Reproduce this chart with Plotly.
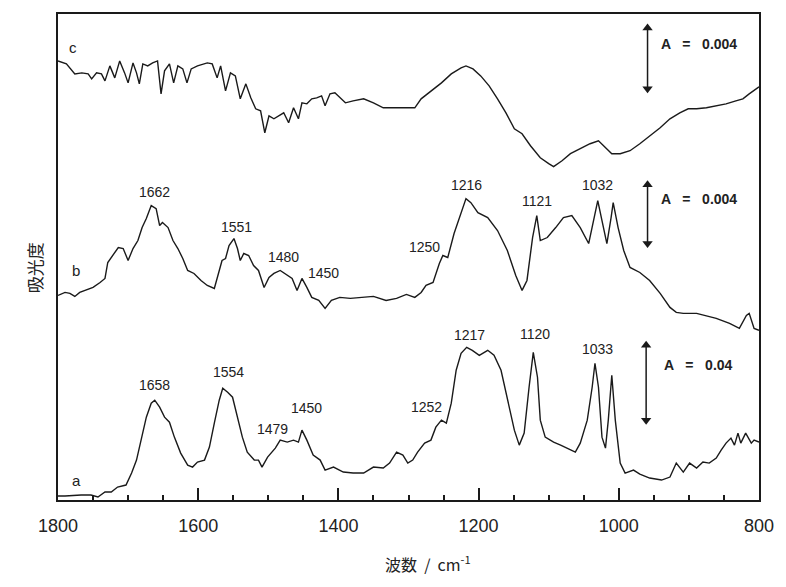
import plotly.graph_objects as go

# ---- spectrum c (top) ----
wn_c = [1800, 1795, 1788, 1776, 1766, 1757, 1752, 1745, 1738, 1733,
        1726, 1719, 1712, 1705, 1700, 1693, 1688, 1684, 1679, 1672,
        1665, 1658, 1653, 1648, 1641, 1635, 1629, 1622, 1616, 1610,
        1601, 1587, 1580, 1573, 1568, 1561, 1554, 1547, 1540, 1532,
        1525, 1518, 1511, 1505, 1499, 1492, 1485, 1478, 1471, 1464,
        1457, 1452, 1445, 1438, 1431, 1424, 1419, 1412, 1405, 1398,
        1390, 1379, 1364, 1350, 1336, 1317, 1301, 1291, 1282, 1268,
        1253, 1239, 1225, 1218, 1208, 1197, 1185, 1173, 1161, 1149,
        1138, 1126, 1112, 1100, 1093, 1081, 1069, 1055, 1041, 1029,
        1019, 1010, 998, 984, 970, 956, 941, 927, 913, 901,
        889, 875, 861, 847, 833, 823, 814, 800]
abs_c = [440, 439, 437, 427, 428, 427, 422, 428, 427, 420,
         435, 423, 440, 428, 418, 438, 428, 417, 437, 435,
         438, 440, 407, 430, 437, 418, 435, 432, 418, 432,
         435, 438, 437, 423, 435, 410, 428, 425, 402, 417,
         403, 392, 390, 368, 385, 382, 385, 388, 378, 393,
         382, 398, 397, 402, 403, 405, 395, 407, 408, 403,
         398, 400, 402, 398, 393, 393, 393, 393, 402, 410,
         418, 427, 433, 435, 432, 425, 415, 402, 388, 372,
         367, 355, 343, 337, 334, 340, 347, 352, 357, 360,
         353, 347, 347, 350, 357, 365, 373, 382, 388, 392,
         392, 393, 395, 397, 400, 402, 407, 414]

# ---- spectrum b (middle) ----
wn_b = [1800, 1790, 1783, 1776, 1769, 1759, 1750, 1740, 1733, 1729,
        1722, 1714, 1707, 1700, 1693, 1686, 1680, 1674, 1667, 1660,
        1655, 1651, 1643, 1636, 1629, 1622, 1615, 1606, 1596, 1587,
        1577, 1573, 1566, 1561, 1556, 1549, 1544, 1540, 1535, 1528,
        1521, 1514, 1506, 1499, 1492, 1483, 1473, 1466, 1459, 1452,
        1445, 1438, 1428, 1419, 1410, 1398, 1383, 1369, 1350, 1332,
        1317, 1303, 1291, 1282, 1275, 1265, 1256, 1251, 1244, 1235,
        1225, 1218, 1211, 1201, 1187, 1173, 1159, 1147, 1138, 1131,
        1123, 1117, 1112, 1102, 1090, 1079, 1067, 1055, 1043, 1036,
        1030, 1024, 1017, 1011, 1008, 1001, 993, 984, 970, 956,
        941, 927, 918, 908, 889, 861, 842, 828, 818, 814,
        807, 800]
abs_b = [205, 208, 207, 204, 208, 211, 213, 218, 222, 238,
         245, 253, 252, 240, 252, 260, 273, 282, 295, 292,
         275, 278, 273, 260, 252, 242, 230, 227, 220, 215,
         212, 223, 240, 242, 255, 262, 252, 240, 247, 245,
         235, 230, 213, 223, 227, 230, 225, 222, 210, 222,
         213, 203, 200, 192, 200, 203, 202, 203, 204, 200,
         202, 206, 203, 208, 215, 218, 237, 245, 243, 267,
         288, 302, 298, 288, 283, 270, 250, 225, 210, 220,
         263, 285, 260, 263, 273, 283, 285, 273, 257, 280,
         300, 280, 257, 283, 298, 273, 250, 233, 228, 220,
         207, 193, 188, 187, 187, 182, 177, 172, 185, 187,
         172, 170]

# ---- spectrum a (bottom) ----
wn_a = [1800, 1790, 1767, 1753, 1743, 1733, 1724, 1715, 1703, 1695,
        1688, 1681, 1674, 1667, 1662, 1655, 1648, 1641, 1634, 1625,
        1615, 1608, 1601, 1591, 1584, 1577, 1570, 1565, 1558, 1551,
        1544, 1537, 1530, 1520, 1514, 1509, 1501, 1495, 1490, 1483,
        1473, 1464, 1457, 1452, 1445, 1436, 1426, 1419, 1407, 1393,
        1379, 1364, 1350, 1336, 1327, 1317, 1308, 1301, 1294, 1287,
        1277, 1268, 1261, 1253, 1246, 1239, 1232, 1225, 1217, 1209,
        1199, 1187, 1178, 1168, 1159, 1149, 1142, 1135, 1128, 1122,
        1116, 1112, 1105, 1093, 1083, 1074, 1062, 1055, 1045, 1038,
        1034, 1029, 1024, 1019, 1015, 1010, 1005, 998, 991, 979,
        970, 956, 939, 927, 918, 908, 899, 889, 880, 871,
        861, 854, 847, 840, 835, 830, 826, 819, 811, 807,
        800]
abs_a = [4, 4, 5, 5, 3, 8, 8, 13, 15, 27,
         40, 63, 83, 97, 100, 93, 83, 78, 63, 47,
         35, 33, 38, 40, 53, 77, 100, 112, 108, 103,
         83, 63, 48, 40, 40, 33, 43, 48, 52, 60,
         58, 60, 58, 70, 60, 45, 40, 30, 33, 28,
         27, 27, 33, 32, 37, 48, 45, 37, 40, 48,
         57, 60, 73, 80, 77, 97, 130, 147, 153, 150,
         145, 150, 145, 130, 103, 70, 55, 67, 113, 148,
         123, 80, 63, 58, 55, 52, 48, 57, 80, 113,
         137, 113, 63, 52, 80, 125, 80, 37, 27, 30,
         26, 22, 20, 23, 37, 28, 37, 32, 38, 37,
         42, 50, 57, 62, 55, 67, 57, 67, 57, 60,
         58]

# ---- peak labels ----
peaks_b = ["1662", "1551", "1480", "1450", "1250", "1216", "1121", "1032"]
peaks_b_x = [1662, 1546, 1478, 1421, 1277, 1217, 1117, 1031]
peaks_b_y = [309, 274, 244, 227, 254, 316, 300, 316]
peaks_a = ["1658", "1554", "1479", "1450", "1252", "1217", "1120", "1033"]
peaks_a_x = [1662, 1557, 1494, 1445, 1275, 1213, 1120, 1031]
peaks_a_y = [115, 128, 71, 92, 93, 165, 166, 151]

curve_names = ["c", "b", "a"]
curve_name_x = [1779, 1775, 1773]
curve_name_y = [453, 230, 20]

# ---- absorbance scale bars ----
scale_texts = ["A   =   0.004", "A   =   0.004", "A   =   0.04"]
scale_x = [959, 959, 961]
scale_top = [473, 316, 155]
scale_bottom = [412, 257, 80]
scale_text_x = [943, 943, 939]
scale_text_y = [457, 302, 135]

tick_vals = [1800, 1600, 1400, 1200, 1000, 800]
tick_text = ["1800", "1600", "1400", "1200", "1000", "800"]

LINE = "#1a1a1a"
TXT = "#222222"

fig = go.Figure()
for wn, ab in [(wn_c, abs_c), (wn_b, abs_b), (wn_a, abs_a)]:
    fig.add_trace(go.Scatter(x=wn, y=ab, mode="lines",
                             line=dict(color=LINE, width=1.4),
                             showlegend=False, hoverinfo="skip"))

for x, y0, y1 in zip(scale_x, scale_top, scale_bottom):
    fig.add_trace(go.Scatter(x=[x, x], y=[y0, y1], mode="lines+markers",
                             line=dict(color=LINE, width=1.5),
                             marker=dict(symbol=["triangle-up", "triangle-down"],
                                         size=9, color=LINE),
                             showlegend=False, hoverinfo="skip"))

ann = []
for t, x, y in zip(peaks_b + peaks_a, peaks_b_x + peaks_a_x, peaks_b_y + peaks_a_y):
    ann.append(dict(x=x, y=y, xref="x", yref="y", text=t, showarrow=False,
                    font=dict(family="Arial, Liberation Sans", size=14, color=TXT)))
for t, x, y in zip(curve_names, curve_name_x, curve_name_y):
    ann.append(dict(x=x, y=y, xref="x", yref="y", text=t, showarrow=False,
                    font=dict(family="Arial, Liberation Sans", size=15, color=TXT)))
for t, x, y in zip(scale_texts, scale_text_x, scale_text_y):
    ann.append(dict(x=x, y=y, xref="x", yref="y", text="<b>" + t + "</b>", showarrow=False,
                    xanchor="left",
                    font=dict(family="Arial, Liberation Sans", size=14, color=TXT)))

ann.append(dict(x=0, y=0.478, xref="paper", yref="paper", xshift=-38,
                text="吸光度", textangle=-90, showarrow=False,
                font=dict(family="Noto Sans CJK JP", size=17, color=TXT)))
ann.append(dict(x=0.528, y=-0.160, xref="paper", yref="paper",
                text="波数  /  cm<sup>-1</sup>", showarrow=False,
                font=dict(family="Noto Sans CJK JP", size=16, color=TXT)))

fig.update_layout(
    width=786, height=587,
    margin=dict(l=58, r=23, t=13, b=87),
    paper_bgcolor="white", plot_bgcolor="white",
    annotations=ann,
    xaxis=dict(range=[1800, 800], showgrid=False, zeroline=False,
               showline=True, linewidth=2, linecolor=LINE, mirror=True,
               ticks="inside", ticklen=12, tickwidth=1.5, tickcolor=LINE,
               tickvals=tick_vals, ticktext=tick_text,
               ticklabelstandoff=8,
               tickfont=dict(family="Arial, Liberation Sans", size=18, color=TXT),
               minor=dict(ticks="inside", dtick=50, tick0=800, ticklen=5,
                          tickwidth=1.5, tickcolor=LINE, showgrid=False)),
    yaxis=dict(range=[0, 487], showgrid=False, zeroline=False,
               showline=True, linewidth=2, linecolor=LINE, mirror=True,
               showticklabels=False, ticks=""),
)

fig.write_html("out.html")
